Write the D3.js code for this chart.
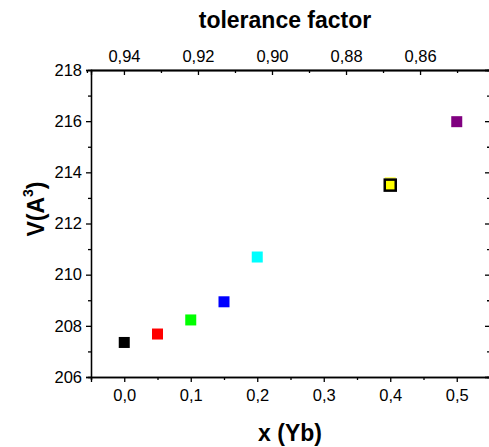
<!DOCTYPE html>
<html>
<head>
<meta charset="utf-8">
<script src="https://cdn.jsdelivr.net/npm/d3@7"></script>
<style>
  body { margin: 0; background: #fff; }
  svg text { font-family: "Liberation Sans", Arial, sans-serif; fill: #000; }
  .axis path, .axis line { stroke: #000; stroke-width: 1.3; }
</style>
</head>
<body>
<svg id="chart" width="489" height="447"></svg>
<script>
// data
const xYb = [0.0, 0.05, 0.1, 0.15, 0.2, 0.4, 0.4, 0.5];
const volume = [207.35, 207.68, 208.23, 208.94, 210.69, 213.6, 213.5, 215.98];
const pointColors = ["#000000", "#ff0000", "#00ff00", "#0000ff", "#00ffff", "#ffff66", "#ffff00", "#800080"];
const pointBorders = [null, null, null, null, null, null, "#000000", null];

const xTicks = [0.0, 0.1, 0.2, 0.3, 0.4, 0.5];
const yTicks = [206, 208, 210, 212, 214, 216, 218];
const tfTicks = [0.94, 0.92, 0.90, 0.88, 0.86];

const svg = d3.select("#chart");
const mLeft = 91, mRight = 490, mTop = 70, mBottom = 377;

const loc = d3.formatLocale({decimal: ",", thousands: ".", grouping: [3], currency: ["", ""]});
const f1 = loc.format(".1f"), f2 = loc.format(".2f");

const x = d3.scaleLinear().domain([-0.05, 0.55]).range([mLeft, mRight]);
const y = d3.scaleLinear().domain([206, 218]).range([mBottom, mTop]);
// top axis: tolerance factor, runs the other way
const tf = d3.scaleLinear().domain([0.9489, 0.8411]).range([mLeft, mRight]);

// minor ticks first
function minor(axis, values, size) {
  return axis.tickValues(values).tickSize(size).tickFormat("");
}

svg.append("g").attr("class", "axis").attr("transform", "translate(0," + mBottom + ")")
  .call(minor(d3.axisBottom(x), d3.range(-0.05, 0.551, 0.1), 3));
svg.append("g").attr("class", "axis").attr("transform", "translate(" + mLeft + ",0)")
  .call(minor(d3.axisLeft(y), d3.range(207, 218, 2), 3));
svg.append("g").attr("class", "axis").attr("transform", "translate(" + mRight + ",0)")
  .call(minor(d3.axisLeft(y), d3.range(207, 218, 2), 3));
svg.append("g").attr("class", "axis").attr("transform", "translate(0," + mTop + ")")
  .call(minor(d3.axisBottom(tf), [0.95, 0.93, 0.91, 0.89, 0.87, 0.85], 3));

// major ticks
svg.append("g").attr("class", "axis").attr("transform", "translate(0," + mBottom + ")")
  .call(d3.axisBottom(x).tickValues(xTicks).tickSize(5).tickPadding(7).tickFormat(f1));
svg.append("g").attr("class", "axis").attr("transform", "translate(" + mLeft + ",0)")
  .call(d3.axisLeft(y).tickValues(yTicks).tickSize(5).tickPadding(4).tickFormat(d3.format("d")));
svg.append("g").attr("class", "axis").attr("transform", "translate(" + mRight + ",0)")
  .call(d3.axisLeft(y).tickValues(yTicks).tickSize(5).tickFormat(""));
svg.append("g").attr("class", "axis").attr("transform", "translate(0," + mTop + ")")
  .call(d3.axisBottom(tf).tickValues(tfTicks).tickSize(5).tickFormat(""));
svg.append("g").attr("class", "axis").attr("transform", "translate(0," + mTop + ")")
  .call(d3.axisTop(tf).tickValues(tfTicks).tickSize(0).tickPadding(8).tickFormat(f2));

svg.selectAll(".axis text").style("font-size", "16.5px");

// points
const sz = 11;
svg.append("g").selectAll("rect")
  .data(xYb)
  .join("rect")
  .attr("x", d => x(d) - sz / 2)
  .attr("y", (d, i) => y(volume[i]) - sz / 2)
  .attr("width", sz)
  .attr("height", sz)
  .attr("fill", (d, i) => pointColors[i])
  .attr("stroke", (d, i) => pointBorders[i] || "none")
  .attr("stroke-width", 2.5);

// titles
svg.append("text")
  .attr("x", 285).attr("y", 28)
  .attr("text-anchor", "middle")
  .style("font-size", "23px").style("font-weight", "bold")
  .text("tolerance factor");

svg.append("text")
  .attr("x", 290).attr("y", 441)
  .attr("text-anchor", "middle")
  .style("font-size", "23px").style("font-weight", "bold")
  .text("x (Yb)");

const yl = svg.append("text")
  .attr("transform", "translate(44,209) rotate(-90)")
  .attr("text-anchor", "middle")
  .style("font-size", "23px").style("font-weight", "bold");
yl.append("tspan").text("V(A");
yl.append("tspan").attr("dy", -11).style("font-size", "14px").text("3");
yl.append("tspan").attr("dy", 11).text(")");
</script>
</body>
</html>
